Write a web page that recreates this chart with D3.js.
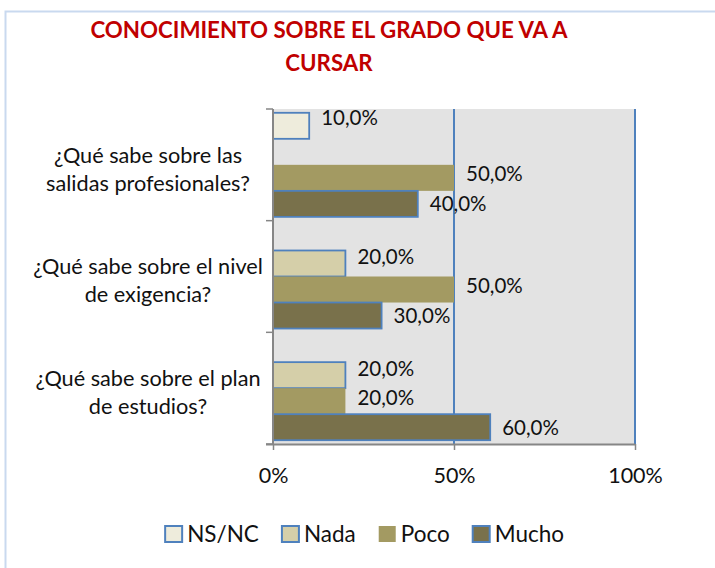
<!DOCTYPE html>
<html>
<head>
<meta charset="utf-8">
<script src="https://cdn.jsdelivr.net/npm/d3@7"></script>
<style>
  body { margin: 0; background: #fff; }
  text { font-family: Lato, "Open Sans", sans-serif; }
</style>
</head>
<body>
<svg id="chart"></svg>
<script>
// data
var titleLines = ["CONOCIMIENTO SOBRE EL GRADO QUE VA A", "CURSAR"]
var categories = [
  ["¿Qué sabe sobre las", "salidas profesionales?"],
  ["¿Qué sabe sobre el nivel", "de exigencia?"],
  ["¿Qué sabe sobre el plan", "de estudios?"]
]
var series = ["NS/NC", "Nada", "Poco", "Mucho"]
var nsnc  = [0.10, 0.00, 0.00]
var nada  = [0.00, 0.20, 0.20]
var poco  = [0.50, 0.50, 0.20]
var mucho = [0.40, 0.30, 0.60]
var xTicks = [0, 0.5, 1]

var values = [nsnc, nada, poco, mucho]

var width = 715, height = 568
var m = {left: 273, right: 635, top: 109, bottom: 444}

var fill = {"NS/NC": "#eeecdc", "Nada": "#d5cfa9", "Poco": "#a39a62", "Mucho": "#79714b"}
var stroke = {"NS/NC": "#4f81bd", "Nada": "#4f81bd", "Poco": "none", "Mucho": "#4f81bd"}
var labelNudge = {"NS/NC": -8, "Nada": -7, "Poco": -4, "Mucho": 0}

var svg = d3.select("#chart")
  .attr("width", width)
  .attr("height", height)

// outer frame
svg.append("rect")
  .attr("x", 5.5).attr("y", 11.5)
  .attr("width", 760).attr("height", 620)
  .attr("fill", "#fff")
  .attr("stroke", "#c9d9ef")
  .attr("stroke-width", 2)

svg.selectAll(".title")
  .data(titleLines)
  .enter().append("text")
  .attr("class", "title")
  .attr("x", 329)
  .attr("y", (d, i) => 30 + i * 33)
  .attr("dy", "0.36em")
  .attr("text-anchor", "middle")
  .attr("font-weight", "bold")
  .attr("font-size", 22.3)
  .attr("fill", "#c00000")
  .text(d => d)

var x = d3.scaleLinear().domain([0, 1]).range([m.left, m.right])

var y0 = d3.scaleBand()
  .domain(d3.range(categories.length))
  .range([m.top, m.bottom])

var y1 = d3.scaleBand()
  .domain(series)
  .range([3.8, y0.bandwidth() - 3.8])

// plot area
svg.append("rect")
  .attr("x", m.left).attr("y", m.top)
  .attr("width", m.right - m.left).attr("height", m.bottom - m.top)
  .attr("fill", "#e3e3e3")

svg.selectAll(".grid")
  .data(xTicks.slice(1))
  .enter().append("line")
  .attr("class", "grid")
  .attr("x1", d => x(d)).attr("x2", d => x(d))
  .attr("y1", m.top).attr("y2", m.bottom)
  .attr("stroke", "#4f81bd")
  .attr("stroke-width", 2)

// bars
var groups = svg.selectAll(".cat")
  .data(categories)
  .enter().append("g")
  .attr("class", "cat")
  .attr("transform", (d, i) => `translate(0,${y0(i)})`)

groups.each(function(c, ci) {
  var g = d3.select(this)
  var rows = series.map((s, si) => ({s: s, v: values[si][ci]}))

  g.selectAll("rect")
    .data(rows.filter(d => d.v > 0))
    .enter().append("rect")
    .attr("x", x(0))
    .attr("y", d => y1(d.s))
    .attr("width", d => x(d.v) - x(0))
    .attr("height", y1.bandwidth())
    .attr("fill", d => fill[d.s])
    .attr("stroke", d => stroke[d.s])
    .attr("stroke-width", 1.8)

  g.selectAll("text")
    .data(rows.filter(d => d.v > 0))
    .enter().append("text")
    .attr("x", d => x(d.v) + 12)
    .attr("y", d => y1(d.s) + y1.bandwidth() / 2 + labelNudge[d.s])
    .attr("dy", "0.36em")
    .attr("font-size", 20.5)
    .attr("fill", "#111")
    .text(d => d3.format(".1f")(d.v * 100).replace(".", ",") + "%")
})

// axes
var axisColor = "#868686"
var yAxis = svg.append("g")
yAxis.append("line")
  .attr("x1", m.left).attr("x2", m.left)
  .attr("y1", m.top).attr("y2", m.bottom)
  .attr("stroke", axisColor).attr("stroke-width", 2)
yAxis.selectAll(".ytick")
  .data(d3.range(categories.length + 1))
  .enter().append("line")
  .attr("x1", m.left - 7).attr("x2", m.left)
  .attr("y1", d => m.top + d * y0.step())
  .attr("y2", d => m.top + d * y0.step())
  .attr("stroke", axisColor).attr("stroke-width", 1.5)

svg.append("g")
  .attr("transform", `translate(0,${m.bottom})`)
  .call(d3.axisBottom(x).tickValues(xTicks).tickFormat(d3.format(".0%")).tickSizeOuter(0).tickSize(6).tickPadding(18))
  .call(g => g.select(".domain").attr("stroke", axisColor).attr("stroke-width", 2).attr("d", `M${m.left - 7},0.5H${m.right}`))
  .call(g => g.selectAll(".tick line").attr("stroke", axisColor).attr("stroke-width", 1.5))
  .call(g => g.selectAll(".tick text").attr("font-size", 21.5).attr("fill", "#111").attr("font-family", "Lato, 'Open Sans', sans-serif"))

// category labels
svg.selectAll(".catlabel")
  .data(categories)
  .enter().append("text")
  .attr("class", "catlabel")
  .attr("x", 148)
  .attr("text-anchor", "middle")
  .attr("font-size", 21.7)
  .attr("fill", "#111")
  .each(function(lines, i) {
    var cy = y0(i) + y0.bandwidth() / 2 + 4
    d3.select(this).selectAll("tspan")
      .data(lines)
      .enter().append("tspan")
      .attr("x", 148)
      .attr("y", (d, j) => cy + (j - (lines.length - 1) / 2) * 28)
      .attr("dy", "0.36em")
      .text(d => d)
  })

// legend, right end aligned near x=564
var legend = svg.append("g")
var lx = 0
series.forEach(function(s) {
  var item = legend.append("g").attr("transform", `translate(${lx},0)`)
  item.append("rect")
    .attr("x", 1).attr("y", -8)
    .attr("width", 17).attr("height", 16)
    .attr("fill", fill[s])
    .attr("stroke", stroke[s])
    .attr("stroke-width", 2)
  var t = item.append("text")
    .attr("x", 23).attr("dy", "0.36em")
    .attr("font-size", 22.5)
    .attr("fill", "#111")
    .text(s)
  lx += 23 + t.node().getComputedTextLength() + 22
})
legend.attr("transform", `translate(${564 - (lx - 22)},534)`)
</script>
</body>
</html>
